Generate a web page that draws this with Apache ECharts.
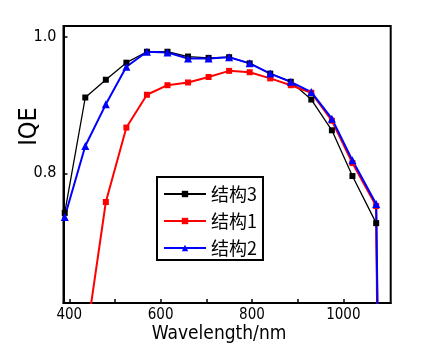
<!DOCTYPE html>
<html>
<head>
<meta charset="utf-8">
<script src="https://cdn.jsdelivr.net/npm/echarts@6/dist/echarts.min.js"></script>
<style>html,body{margin:0;padding:0;background:#fff}#c{width:429px;height:358px}</style>
</head>
<body>
<div id="c"></div>
<script>
// Wavelength (nm)
const wavelengths = [390, 435, 480, 525, 570, 615, 660, 705, 750, 795, 840, 885, 930, 975, 1020, 1072];
// IQE values
const s3 = [0.742, 0.911, 0.937, 0.962, 0.978, 0.978, 0.971, 0.969, 0.970, 0.961, 0.946, 0.934, 0.908, 0.863, 0.796, 0.727];
const s1 = [null, 0.55, 0.758, 0.867, 0.915, 0.929, 0.933, 0.941, 0.950, 0.948, 0.939, 0.929, 0.918, 0.877, 0.815, 0.752];
const s2 = [0.736, 0.840, 0.901, 0.956, 0.978, 0.977, 0.968, 0.968, 0.970, 0.961, 0.946, 0.934, 0.919, 0.880, 0.819, 0.755];
// final steep drop beyond the last measured point
const dropX = { s3: 1075, s1: 1078, s2: 1079 };
const dropY = 0.40;
const names = ['结构3', '结构1', '结构2'];
const xTickLabels = [400, 600, 800, 1000];
const xTicks = [400, 500, 600, 700, 800, 900, 1000];
const yTickLabels = [0.8, 1.0];

function build(vals, dx) {
  const d = [];
  wavelengths.forEach((w, i) => { if (vals[i] != null) d.push([w, vals[i]]); });
  d.push({ value: [dx, dropY], symbol: 'none' });
  return d;
}

const font = '"DejaVu Sans Condensed","Liberation Sans",Arial,sans-serif';
const chart = echarts.init(document.getElementById('c'));
chart.setOption({
  animation: false,
  grid: { left: 63.5, right: 38.3, top: 26, bottom: 55, outerBoundsMode: 'none', containLabel: false,
    show: true, borderColor: '#000', borderWidth: 2, backgroundColor: 'transparent' },
  xAxis: {
    type: 'value', min: 387.3, max: 1103.8,
    splitLine: { show: false },
    axisLine: { lineStyle: { color: '#000', width: 2 } },
    axisTick: { inside: true, length: 4, lineStyle: { color: '#000', width: 1.5 }, customValues: xTicks },
    axisLabel: { color: '#000', fontFamily: font, fontSize: 15, margin: 5, customValues: xTickLabels,
      formatter: v => String(Math.round(v)) },
    name: 'Wavelength/nm', nameLocation: 'middle', nameGap: 22, nameMoveOverlap: false,
    nameTextStyle: { color: '#000', fontFamily: font, fontSize: 19, padding: [0, 16, 0, 0] }
  },
  yAxis: {
    type: 'value', min: 0.6101, max: 1.0157,
    splitLine: { show: false },
    axisLine: { lineStyle: { color: '#000', width: 2 } },
    axisTick: { inside: true, length: 4, lineStyle: { color: '#000', width: 1.5 }, customValues: yTickLabels },
    axisLabel: { color: '#000', fontFamily: font, fontSize: 16, margin: 7, customValues: yTickLabels,
      formatter: v => v.toFixed(1) },
    name: 'IQE', nameLocation: 'middle', nameGap: 22, nameMoveOverlap: false,
    nameTextStyle: { color: '#000', fontFamily: font, fontSize: 25, padding: [0, 0, 0, 76] }
  },
  legend: {
    orient: 'vertical', left: 157, top: 177,
    padding: [8, 6, 3, 6], itemGap: 9, itemWidth: 42, itemHeight: 8,
    borderColor: '#000', borderWidth: 2, backgroundColor: '#fff',
    textStyle: { color: '#000', fontFamily: '"Noto Sans CJK SC",sans-serif', fontSize: 18, lineHeight: 18 },
    data: names
  },
  series: [
    { name: names[0], type: 'line', data: build(s3, dropX.s3), symbol: 'rect', symbolSize: 6,
      itemStyle: { color: '#000' }, lineStyle: { color: '#000', width: 1.3 }, clip: true },
    { name: names[1], type: 'line', data: build(s1, dropX.s1), symbol: 'rect', symbolSize: 6,
      itemStyle: { color: '#ff0000' }, lineStyle: { color: '#ff0000', width: 2 }, clip: true },
    { name: names[2], type: 'line', data: build(s2, dropX.s2), symbol: 'triangle', symbolSize: 8,
      itemStyle: { color: '#0000ff' }, lineStyle: { color: '#0000ff', width: 2 }, clip: true }
  ]
});
</script>
</body>
</html>
